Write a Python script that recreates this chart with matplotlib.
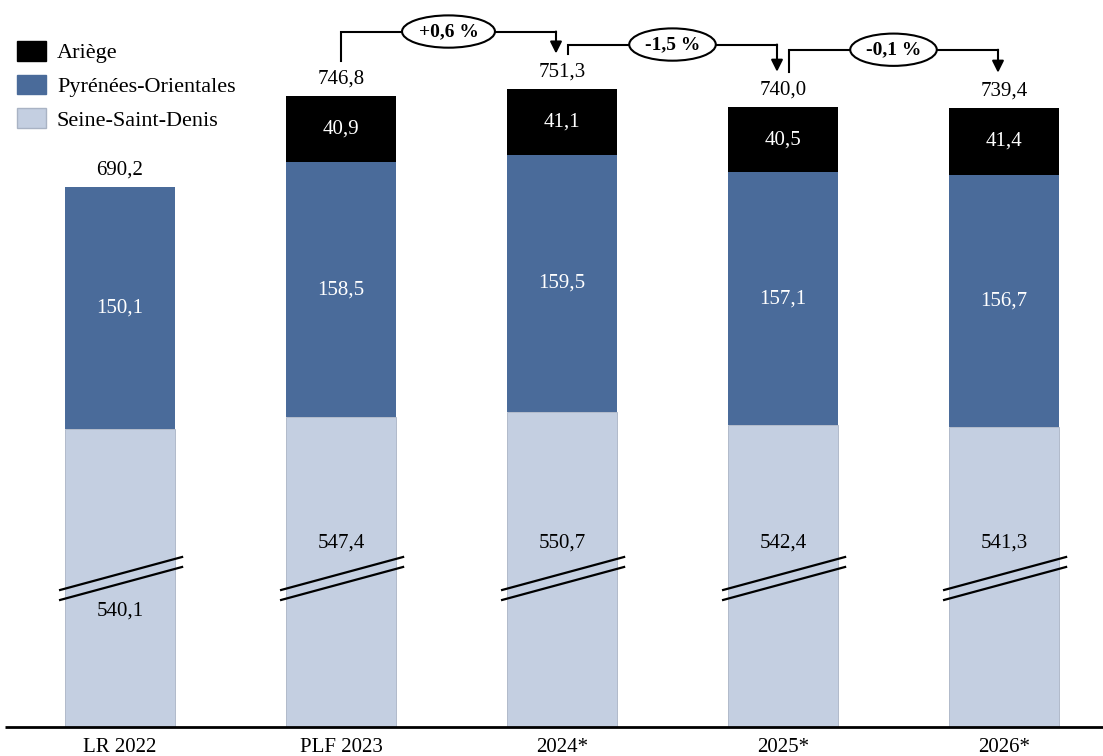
import matplotlib
matplotlib.use("Agg")
import matplotlib.pyplot as plt
from matplotlib.patches import Patch

# ---------------- data ----------------
categories = ["LR 2022", "PLF 2023", "2024*", "2025*", "2026*"]
seine = [540.1, 547.4, 550.7, 542.4, 541.3]
pyrenees = [150.1, 158.5, 159.5, 157.1, 156.7]
ariege = [0.0, 40.9, 41.1, 40.5, 41.4]
totals = [690.2, 746.8, 751.3, 740.0, 739.4]
changes = ["+0,6 %", "-1,5 %", "-0,1 %"]
series_names = ["Ariège", "Pyrénées-Orientales", "Seine-Saint-Denis"]

# ---------------- style ----------------
C_BLACK = "#000000"
C_BLUE = "#4A6B9A"
C_LIGHT = "#C4CFE1"
BREAK = 355.0          # axis break: value hidden below the break marks
PX = 1.61              # pixels per unit
FONT = "Liberation Serif"

def fmt(v):
    return f"{v:.1f}".replace(".", ",")

fig = plt.figure(figsize=(11.03, 7.56), dpi=100)
ax = fig.add_axes([0, 0, 1, 1])
ax.set_xlim(-120 / 221, (1103 - 120) / 221)
ax.set_ylim(-29 / PX, 727 / PX)
ax.axis("off")

x = list(range(len(categories)))
w = 0.5
seine_disp = [v - BREAK for v in seine]
blue_bottom = seine_disp
black_bottom = [s + p for s, p in zip(seine_disp, pyrenees)]

ax.bar(x, seine_disp, w, color=C_LIGHT, edgecolor="#A9B3C4", linewidth=0.6, zorder=2)
ax.bar(x, pyrenees, w, bottom=blue_bottom, color=C_BLUE, zorder=2)
ax.bar(x, ariege, w, bottom=black_bottom, color=C_BLACK, zorder=2)

# baseline
ax.plot([(5 - 120) / 221, (1103 - 120) / 221], [0, 0], color="black", lw=2, zorder=3,
        solid_capstyle="butt")

fs = 15
for i in x:
    # break marks
    for y0, y1 in ((85.1, 105.6), (78.9, 99.4)):
        ax.plot([i - 0.271, i + 0.281], [y0, y1], color="black", lw=1.6, zorder=4)
    # seine label
    sy = 72.0 if ariege[i] == 0 else 114.3
    ax.text(i, sy, fmt(seine[i]), ha="center", va="center", fontsize=fs,
            family=FONT, color="black", zorder=5)
    # blue label
    ax.text(i, blue_bottom[i] + pyrenees[i] / 2, fmt(pyrenees[i]), ha="center",
            va="center", fontsize=fs, family=FONT, color="white", zorder=5)
    if ariege[i] > 0:
        ax.text(i, black_bottom[i] + ariege[i] / 2, fmt(ariege[i]), ha="center",
                va="center", fontsize=fs, family=FONT, color="white", zorder=5)
    top = black_bottom[i] + ariege[i]
    ax.text(i, top + 10.5, fmt(totals[i]), ha="center", va="center", fontsize=fs,
            family=FONT, color="black", zorder=5)
    ax.text(i, -12.5, categories[i], ha="center", va="center", fontsize=fs,
            family=FONT, color="black")

# change brackets
tops = [black_bottom[i] + ariege[i] for i in x]
levels_px = [22, 9, 22]
for k in range(1, len(categories) - 1):
    a, b = k, k + 1
    y_start = tops[a] + 21.7
    y_end = tops[b] + 22.0
    if k > 1:
        y_start = tops[a] + 22.0
    y_h = max(y_start, y_end) + levels_px[k - 1] / PX
    xs = a + (0 if k == 1 else 6 / 221)
    xe = b - 6 / 221
    ax.plot([xs, xs, xe], [y_start, y_h, y_h], color="black", lw=1.5, zorder=5,
            solid_joinstyle="miter")
    ax.annotate("", xy=(xe, y_end), xytext=(xe, y_h),
                arrowprops=dict(arrowstyle="-|>,head_length=0.7,head_width=0.35",
                                color="black", lw=1.5, shrinkA=0, shrinkB=0),
                zorder=5)
    ax.text((xs + xe) / 2, y_h, changes[k - 1], ha="center", va="center",
            fontsize=14, family=FONT, fontweight="bold", zorder=6,
            bbox=dict(boxstyle="ellipse,pad=0.15", fc="white", ec="black", lw=1.5))

# legend
handles = [Patch(facecolor=C_BLACK, edgecolor=C_BLACK),
           Patch(facecolor=C_BLUE, edgecolor=C_BLUE),
           Patch(facecolor=C_LIGHT, edgecolor="#A9B3C4")]
leg = ax.legend(handles, series_names, loc="upper left",
                bbox_to_anchor=(8 / 1103, 1 - 32 / 756), bbox_transform=fig.transFigure,
                frameon=False, prop={"family": FONT, "size": 16},
                handlelength=1.3, handleheight=1.0, handletextpad=0.5,
                labelspacing=0.5, borderaxespad=0)

fig.savefig("out.png", dpi=100)
